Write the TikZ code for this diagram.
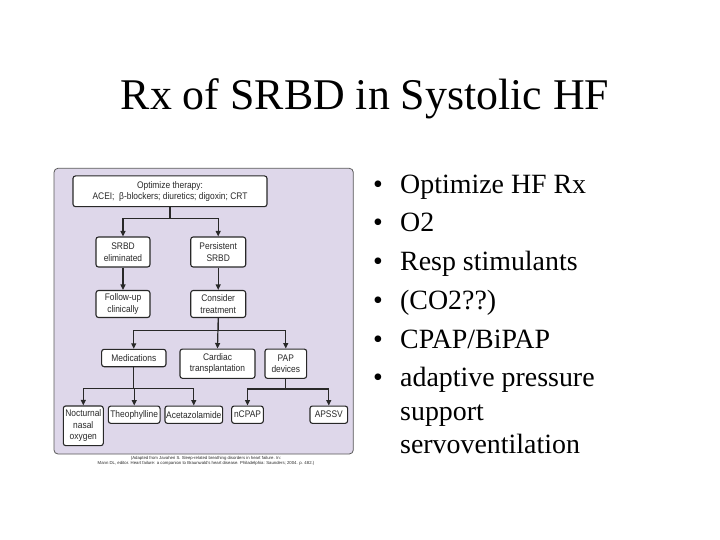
\documentclass[tikz,border=0pt]{standalone}
\usepackage{fontspec}
\setmainfont{Liberation Serif}
\newfontfamily\figsans[FakeStretch=0.88]{Liberation Sans}
\newfontfamily\notesans{Liberation Sans}
\usetikzlibrary{arrows.meta}
\definecolor{panelbg}{RGB}{222,215,234}
\definecolor{inkgray}{RGB}{40,40,40}
\tikzset{
  flowbox/.style={draw=inkgray,fill=white,rounded corners=2.5bp,line width=1.1bp,
    align=center,inner sep=0pt,text=inkgray,
    font=\figsans\fontsize{9.6}{11.5}\selectfont},
  link/.style={draw=inkgray,line width=1.2bp},
  linkarrow/.style={link,-{Triangle[length=5.5bp,width=5bp]}},
  bulletmark/.style={anchor=base,inner sep=0pt,font=\fontsize{28}{33}\selectfont},
  bullettext/.style={anchor=base west,inner sep=0pt,font=\fontsize{28}{33}\selectfont}
}
\begin{document}
\begin{tikzpicture}[x=1bp,y=-1bp]
\useasboundingbox[fill=white] (0,0) rectangle (720,540);
\node[anchor=base,inner sep=0pt,font=\fontsize{44}{52}\selectfont] (title) at (365,110) {Rx of SRBD in Systolic HF};
\draw[draw=gray!70!black,line width=0.8bp,fill=panelbg,rounded corners=4bp] (54,168.3) rectangle (353.3,454);
\node[flowbox,minimum width=194bp,minimum height=30.7bp] (opt) at (170,191.3) {Optimize therapy:\\ACEI;\ \ β-blockers; diuretics; digoxin; CRT};
\node[flowbox,minimum width=54bp,minimum height=30bp] (elim) at (123,252) {SRBD\\eliminated};
\node[flowbox,minimum width=55bp,minimum height=30bp] (pers) at (218.2,252) {Persistent\\SRBD};
\node[flowbox,minimum width=54bp,minimum height=27bp] (follow) at (123,304) {Follow-up\\clinically};
\node[flowbox,minimum width=55bp,minimum height=27bp] (consider) at (218.2,304) {Consider\\treatment};
\node[flowbox,minimum width=64.3bp,minimum height=17.4bp] (meds) at (133.8,358) {Medications};
\node[flowbox,minimum width=75bp,minimum height=29.3bp] (cardiac) at (217.5,363.7) {Cardiac\\transplantation};
\node[flowbox,minimum width=41.7bp,minimum height=29.3bp] (pap) at (285.8,363.7) {PAP\\devices};
\node[flowbox,minimum width=40bp,minimum height=39.7bp] (noct) at (83.3,425.8) {Nocturnal\\nasal\\oxygen};
\node[flowbox,minimum width=51.7bp,minimum height=17.3bp] (theo) at (134.2,414.7) {Theophylline};
\node[flowbox,minimum width=57.7bp,minimum height=17.3bp] (acet) at (193.8,414.7) {Acetazolamide};
\node[flowbox,minimum width=31.7bp,minimum height=17.3bp] (ncpap) at (247.5,414.7) {nCPAP};
\node[flowbox,minimum width=37.7bp,minimum height=17.3bp] (apssv) at (328.8,414.7) {APSSV};
\draw[link] (opt.south) -- ++(0,11) coordinate (optsplit);
\draw[linkarrow] (optsplit) -| (elim.north);
\draw[linkarrow] (optsplit) -| (pers.north);
\draw[linkarrow] (elim) -- (follow);
\draw[linkarrow] (pers) -- (consider);
\draw[link] (consider.south) -- ++(0,12.7) coordinate (txsplit);
\draw[linkarrow] (txsplit) -| (meds.north);
\draw[linkarrow] (consider.south) -- (cardiac.north);
\draw[linkarrow] (txsplit) -| (pap.north);
\draw[link] (meds.south) -- ++(0,21.6) coordinate (medsplit);
\draw[linkarrow] (medsplit) -| (noct.north);
\draw[linkarrow] (medsplit) -| (theo.north);
\draw[linkarrow] (medsplit) -| (acet.north);
\draw[link] (pap.south) -- ++(0,10) coordinate (papsplit);
\draw[linkarrow] (papsplit) -| (ncpap.north);
\draw[linkarrow] (papsplit) -| (apssv.north);
\node[align=center,inner sep=0pt,text=inkgray,font=\notesans\fontsize{4.3}{5}\selectfont] (source) at (206,461.2) {(Adapted from Javaheri S. Sleep-related breathing disorders in heart failure. In:\\Mann DL, editor. Heart failure: a companion to Braunwald's heart disease. Philadelphia: Saunders; 2004. p. 482.)};
\node[bulletmark] (m1) at (378,193.3) {\textbullet};
\node[bullettext] (t1) at (400,193.3) {Optimize HF Rx};
\node[bulletmark] (m2) at (378,232) {\textbullet};
\node[bullettext] (t2) at (400,232) {O2};
\node[bulletmark] (m3) at (378,270.7) {\textbullet};
\node[bullettext] (t3) at (400,270.7) {Resp stimulants};
\node[bulletmark] (m4) at (378,309.4) {\textbullet};
\node[bullettext] (t4) at (400,309.4) {(CO2??)};
\node[bulletmark] (m5) at (378,348) {\textbullet};
\node[bullettext] (t5) at (400,348) {CPAP/BiPAP};
\node[bulletmark] (m6) at (378,386.7) {\textbullet};
\node[bullettext] (t6) at (400,386.7) {adaptive pressure};
\node[bullettext] (t7) at (400,420.2) {support};
\node[bullettext] (t8) at (400,453.7) {servoventilation};
\end{tikzpicture}
\end{document}
